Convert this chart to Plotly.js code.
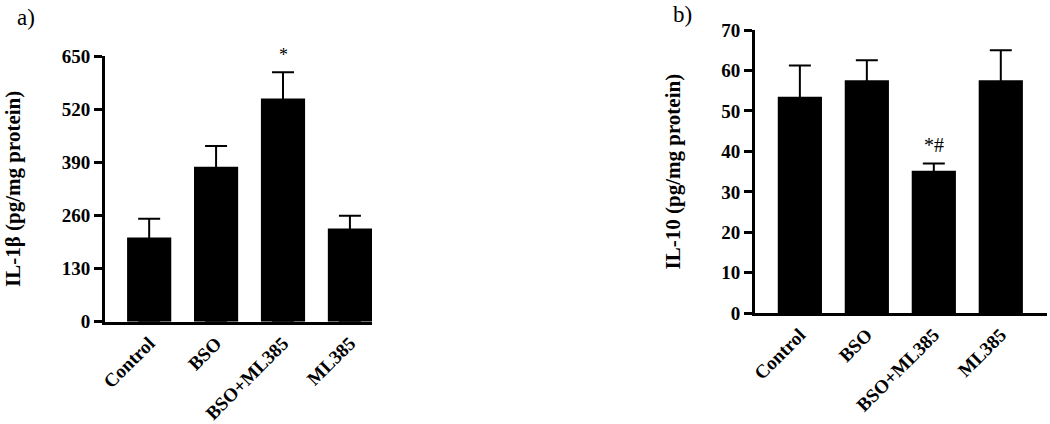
<!DOCTYPE html>
<html>
<head>
<meta charset="utf-8">
<script src="https://cdn.plot.ly/plotly-3.0.1.min.js"></script>
<style>
  body { margin: 0; background: white; }
  #chart { width: 1050px; height: 424px; }
</style>
</head>
<body>
<div id="chart"></div>
<script>
// Groups
const groups = ['Control', 'BSO', 'BSO+ML385', 'ML385'];

// a) IL-1β (pg/mg protein)
const il1bMean = [206, 379, 546, 228];
const il1bErr = [46, 51, 64, 31];
const il1bMarks = ['', '', '*', ''];

// b) IL-10 (pg/mg protein)
const il10Mean = [53.5, 57.6, 35.2, 57.6];
const il10Err = [7.7, 4.9, 1.8, 7.4];
const il10Marks = ['', '', '*#', ''];

const serif = 'Liberation Serif, Times New Roman, serif';

function barTrace(means, errs, xa, ya) {
    return {
        type: 'bar',
        x: groups,
        y: means,
        xaxis: xa,
        yaxis: ya,
        marker: { color: '#000000', line: { width: 0 } },
        // lower part runs down inside the black bar, so no cap shows at the bar top
        error_y: {
            type: 'data',
            symmetric: false,
            array: errs,
            arrayminus: means,
            color: '#000000',
            thickness: 2,
            width: 11
        },
        hoverinfo: 'x+y',
        showlegend: false
    };
}

function markAnnotations(marks, means, errs, xa, ya, shift, size) {
    const out = [];
    marks.forEach((m, i) => {
        if (!m) return;
        out.push({
            xref: xa, yref: ya,
            x: groups[i], y: means[i] + errs[i],
            text: m,
            showarrow: false,
            yanchor: 'bottom',
            yshift: shift,
            font: { family: serif, size: size, color: '#000000' }
        });
    });
    return out;
}

const axisLine = {
    showline: true,
    linecolor: '#000000',
    linewidth: 3,
    showgrid: false,
    zeroline: false,
    ticks: 'outside',
    ticklen: 8,
    tickwidth: 3,
    tickcolor: '#000000',
    tickfont: { family: serif, size: 19, color: '#000000', weight: 'bold' }
};

const xTickFont = { family: serif, size: 19, color: '#000000', weight: 'bold' };
const titleFont = { family: serif, size: 21, color: '#000000', weight: 'bold' };

const layout = {
    width: 1050,
    height: 424,
    margin: { l: 0, r: 0, t: 0, b: 0 },
    paper_bgcolor: 'white',
    plot_bgcolor: 'white',
    bargap: 0.34,
    xaxis: Object.assign({}, axisLine, {
        domain: [105 / 1050, 372 / 1050],
        anchor: 'y',
        range: [-0.66, 3.33],
        ticks: '',
        tickangle: -45,
        tickfont: xTickFont
    }),
    yaxis: Object.assign({}, axisLine, {
        domain: [102.3 / 424, 368 / 424],
        anchor: 'x',
        range: [0, 650],
        tickvals: [0, 130, 260, 390, 520, 650],
        title: { text: 'IL-1β (pg/mg protein)', standoff: 36, font: titleFont }
    }),
    xaxis2: Object.assign({}, axisLine, {
        domain: [755 / 1050, 1047 / 1050],
        anchor: 'y2',
        range: [-0.67, 3.69],
        ticks: '',
        tickangle: -45,
        tickfont: xTickFont
    }),
    yaxis2: Object.assign({}, axisLine, {
        domain: [110.7 / 424, 394 / 424],
        anchor: 'x2',
        range: [0, 70],
        dtick: 10,
        title: { text: 'IL-10 (pg/mg protein)', standoff: 35, font: titleFont }
    }),
    annotations: [
        { xref: 'paper', yref: 'paper', x: 26 / 1050, y: 1 - 17 / 424, text: 'a)',
          xanchor: 'center', yanchor: 'middle',
          showarrow: false, font: { family: serif, size: 23, color: '#000000' } },
        { xref: 'paper', yref: 'paper', x: 682 / 1050, y: 1 - 14 / 424, text: 'b)',
          xanchor: 'center', yanchor: 'middle',
          showarrow: false, font: { family: serif, size: 23, color: '#000000' } }
    ]
        .concat(markAnnotations(il1bMarks, il1bMean, il1bErr, 'x', 'y', 5, 18))
        .concat(markAnnotations(il10Marks, il10Mean, il10Err, 'x2', 'y2', 6, 20))
};

const data = [
    barTrace(il1bMean, il1bErr, 'x', 'y'),
    barTrace(il10Mean, il10Err, 'x2', 'y2')
];

Plotly.newPlot('chart', data, layout, { displayModeBar: false, staticPlot: true });
</script>
</body>
</html>
